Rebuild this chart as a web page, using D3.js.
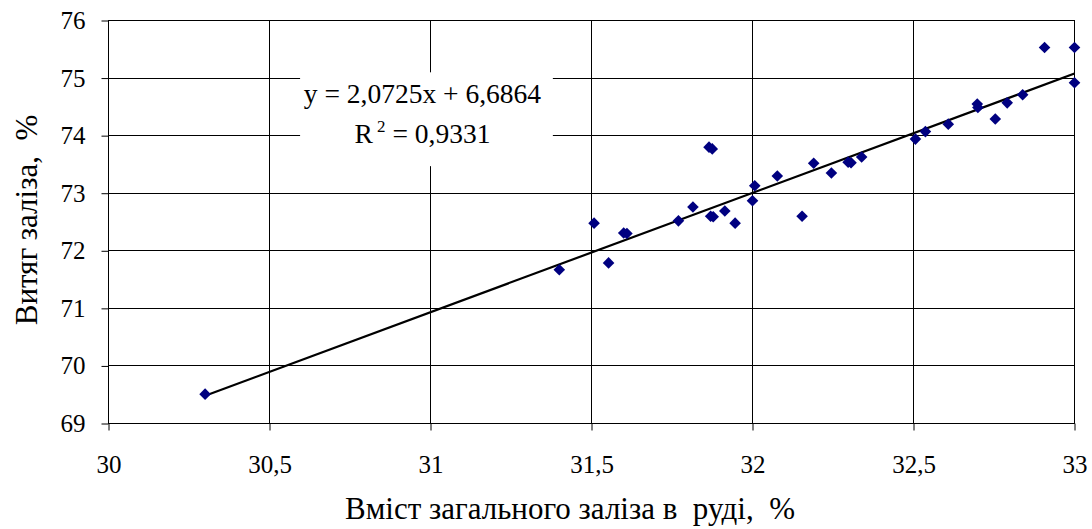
<!DOCTYPE html>
<html>
<head>
<meta charset="utf-8">
<script src="https://cdn.jsdelivr.net/npm/d3@7"></script>
<style>
  body { margin: 0; background: #fff; }
  svg text { font-family: "Liberation Serif", "Tinos", "Times New Roman", "DejaVu Serif", "Noto Serif", serif !important; fill: #000; }
</style>
</head>
<body>
<svg width="1092" height="529"></svg>
<script>
// iron content in ore, %
var xVals = [30.30, 31.40, 31.508, 31.553, 31.60, 31.61, 31.77, 31.815, 31.865, 31.875,
             31.87, 31.878, 31.914, 31.946, 32.00, 32.007, 32.077, 32.154, 32.19, 32.245,
             32.297, 32.306, 32.339, 32.506, 32.537, 32.608, 32.698, 32.70, 32.754, 32.791,
             32.839, 32.907, 33.00, 33.00];
// iron recovery, %
var yVals = [69.51, 71.67, 72.48, 71.79, 72.31, 72.30, 72.52, 72.76, 73.80, 73.77,
             72.60, 72.59, 72.69, 72.48, 72.87, 73.13, 73.30, 72.60, 73.52, 73.35,
             73.54, 73.53, 73.63, 73.94, 74.07, 74.20, 74.55, 74.49, 74.29, 74.57,
             74.71, 75.53, 75.53, 74.92];

var xTicks = [30, 30.5, 31, 31.5, 32, 32.5, 33];
var xTickLabels = ["30", "30,5", "31", "31,5", "32", "32,5", "33"];
var yTicks = [69, 70, 71, 72, 73, 74, 75, 76];

var slope = 2.0725, intercept = 6.6864;
var trendRange = [30.3, 33];

var svg = d3.select("svg"),
    margin = {top: 20.5, right: 17.5, bottom: 105.5, left: 108.5},
    width = +svg.attr("width") - margin.left - margin.right,
    height = +svg.attr("height") - margin.top - margin.bottom,
    g = svg.append("g").attr("transform", "translate(" + margin.left + "," + margin.top + ")");

var x = d3.scaleLinear().domain([30, 33]).range([0, width]);
var y = d3.scaleLinear().domain([69, 76]).range([height, 0]);

// grid
g.selectAll(".vgrid").data(xTicks).enter().append("line")
    .attr("x1", function(d) { return Math.round(x(d)); })
    .attr("x2", function(d) { return Math.round(x(d)); })
    .attr("y1", 0).attr("y2", height)
    .attr("stroke", "#000").attr("stroke-width", 1);
g.selectAll(".hgrid").data(yTicks).enter().append("line")
    .attr("y1", function(d) { return Math.round(y(d)); })
    .attr("y2", function(d) { return Math.round(y(d)); })
    .attr("x1", 0).attr("x2", width)
    .attr("stroke", "#000").attr("stroke-width", 1);

// axes
var xAxis = d3.axisBottom(x).tickValues(xTicks).tickSize(7).tickPadding(25)
    .tickFormat(function(d, i) { return xTickLabels[i]; });
var yAxis = d3.axisLeft(y).tickValues(yTicks).tickSize(7).tickPadding(16)
    .tickFormat(function(d) { return d; });

g.append("g").attr("transform", "translate(0," + height + ")").call(xAxis)
  .call(function(a) {
    a.select(".domain").remove();
    a.selectAll("line").attr("stroke", "#000");
    a.selectAll("text").attr("font-size", 25);
  });
g.append("g").call(yAxis)
  .call(function(a) {
    a.select(".domain").remove();
    a.selectAll("line").attr("stroke", "#000");
    a.selectAll("text").attr("font-size", 25);
  });

g.append("rect").attr("x", 0).attr("y", 0).attr("width", width).attr("height", height)
    .attr("fill", "none").attr("stroke", "#000").attr("stroke-width", 1);

// equation label box
var box = g.append("g");
box.append("rect")
    .attr("x", x(30.595)).attr("y", y(75.1))
    .attr("width", x(31.38) - x(30.595)).attr("height", y(73.47) - y(75.1))
    .attr("fill", "#fff");
box.append("text")
    .attr("x", x(30.975)).attr("y", y(74.56))
    .attr("text-anchor", "middle").attr("font-size", 27.5)
    .text("y = 2,0725x + 6,6864");
var r2 = box.append("text")
    .attr("x", x(30.975)).attr("y", y(73.87))
    .attr("text-anchor", "middle").attr("font-size", 27.5);
r2.append("tspan").text("R");
r2.append("tspan").attr("font-size", 17).attr("dy", -11).text(" 2");
r2.append("tspan").attr("dy", 11).text(" = 0,9331");

// trend line
g.append("line")
    .attr("x1", x(trendRange[0])).attr("y1", y(slope * trendRange[0] + intercept))
    .attr("x2", x(trendRange[1])).attr("y2", y(slope * trendRange[1] + intercept))
    .attr("stroke", "#000").attr("stroke-width", 2.2);

// points
var r = 5.8;
var pts = d3.range(xVals.length);
g.selectAll(".pt").data(pts).enter().append("path")
    .attr("d", "M0," + (-r) + "L" + r + ",0L0," + r + "L" + (-r) + ",0Z")
    .attr("transform", function(i) { return "translate(" + x(xVals[i]) + "," + y(yVals[i]) + ")"; })
    .attr("fill", "#000080");

// axis titles
svg.append("text")
    .attr("x", 570).attr("y", 519)
    .attr("text-anchor", "middle").attr("font-size", 31)
    .attr("xml:space", "preserve")
    .text("Вміст загального заліза в  руді,  %");
svg.append("text")
    .attr("transform", "translate(37,220) rotate(-90)")
    .attr("text-anchor", "middle").attr("font-size", 31)
    .attr("xml:space", "preserve")
    .text("Витяг заліза,  %");
</script>
</body>
</html>
